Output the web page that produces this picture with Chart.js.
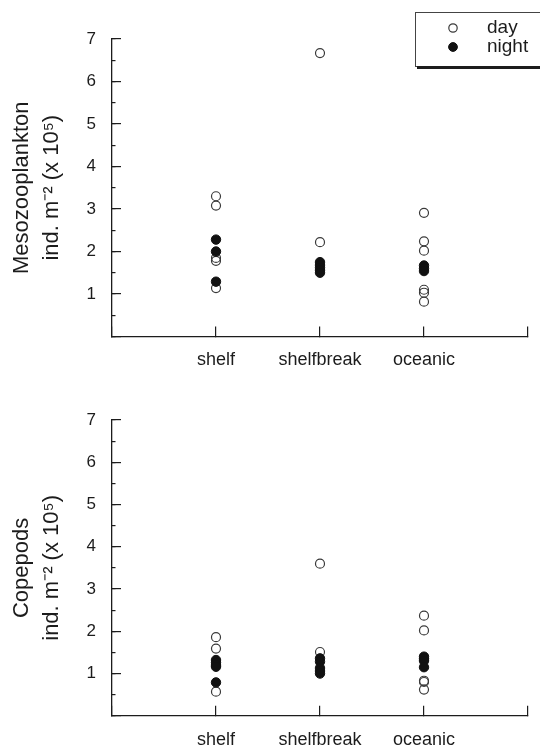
<!DOCTYPE html>
<html>
<head>
<meta charset="utf-8">
<script src="https://cdn.jsdelivr.net/npm/chart.js@4.4.1/dist/chart.umd.min.js"></script>
<style>
html, body { margin: 0; padding: 0; background: #fff; }
#wrap { position: relative; width: 540px; height: 751px; overflow: hidden; }
canvas { position: absolute; left: 0; }
</style>
</head>
<body>
<div id="wrap">
  <canvas id="meso" width="540" height="375" style="top:0"></canvas>
  <canvas id="cope" width="540" height="370" style="top:381px"></canvas>
</div>
<script>
var categories = ["shelf", "shelfbreak", "oceanic"];
var yTickLabels = ["", "1", "2", "3", "4", "5", "6", "7"];

// ind. m-2 (x 10^5), one list per station type: shelf, shelfbreak, oceanic
var mesoDayShelf = [3.3, 3.08, 1.85, 1.78, 1.14];
var mesoDayBreak = [6.67, 2.22];
var mesoDayOceanic = [2.91, 2.24, 2.02, 1.1, 1.03, 0.82];
var mesoNightShelf = [2.28, 2.0, 1.29];
var mesoNightBreak = [1.75, 1.68, 1.62, 1.56, 1.5];
var mesoNightOceanic = [1.67, 1.6, 1.54];

var copeDayShelf = [1.86, 1.59, 0.57];
var copeDayBreak = [3.6, 1.51];
var copeDayOceanic = [2.37, 2.02, 0.83, 0.8, 0.62];
var copeNightShelf = [1.32, 1.26, 1.2, 1.16, 0.79];
var copeNightBreak = [1.36, 1.28, 1.13, 1.06, 1.0];
var copeNightOceanic = [1.4, 1.35, 1.3, 1.15];

var ink = "#1c1c1c";
Chart.defaults.font.family = '"Liberation Sans", Arial, Helvetica, sans-serif';
Chart.defaults.color = ink;

function toPoints(lists) {
    var pts = [];
    lists.forEach(function(vals, i) {
        vals.forEach(function(v) { pts.push({x: i + 1, y: v}); });
    });
    return pts;
}

/* boxed legend in the top right corner, with a drop shadow at the bottom */
var boxLegend = {
    id: "boxLegend",
    afterDraw: function(chart) {
        var c = chart.ctx,
            x0 = 415, y0 = 12, x1 = 548, y1 = 66;
        c.save();
        c.fillStyle = "#fff";
        c.fillRect(x0, y0, x1 - x0, y1 - y0);
        c.strokeStyle = "#444";
        c.lineWidth = 1;
        c.strokeRect(x0 + 0.5, y0 + 0.5, x1 - x0, y1 - y0);
        c.fillStyle = ink;
        c.fillRect(x0 + 2, y1, x1 - x0, 3);

        var rows = [28, 47];
        chart.data.datasets.forEach(function(ds, i) {
            c.beginPath();
            c.arc(453, rows[i], ds.pointRadius - 0.3, 0, Math.PI * 2);
            if (ds.pointBackgroundColor !== "rgba(0,0,0,0)") {
                c.fillStyle = ds.pointBackgroundColor;
                c.fill();
            }
            c.lineWidth = ds.pointBorderWidth;
            c.strokeStyle = ds.pointBorderColor;
            c.stroke();
            c.fillStyle = ink;
            c.font = '19px "Liberation Sans", Arial, sans-serif';
            c.textBaseline = "middle";
            c.fillText(ds.label, 487, rows[i]);
        });
        c.restore();
    }
};

function makeChart(id, dayLists, nightLists, title, area, withLegend) {
    var axisLine = {color: ink, width: 1.3};
    return new Chart(document.getElementById(id), {
        type: "scatter",
        data: {
            datasets: [
                {
                    label: "day",
                    data: toPoints(dayLists),
                    pointRadius: 4.5,
                    pointBorderWidth: 1.2,
                    pointBorderColor: "#3a3a3a",
                    pointBackgroundColor: "rgba(0,0,0,0)",
                    order: 1
                },
                {
                    label: "night",
                    data: toPoints(nightLists),
                    pointRadius: 4.7,
                    pointBorderWidth: 1,
                    pointBorderColor: "#111",
                    pointBackgroundColor: "#111",
                    order: 0
                }
            ]
        },
        plugins: withLegend ? [boxLegend] : [],
        options: {
            responsive: false,
            animation: false,
            devicePixelRatio: 1,
            layout: {padding: {top: area.top, right: 12, left: 0, bottom: 0}},
            plugins: {legend: {display: false}, tooltip: {enabled: false}},
            scales: {
                x: {
                    type: "linear",
                    min: 0,
                    max: 4,
                    afterFit: function(s) {
                        s.height = area.xHeight;
                        // labels at both ends are empty, no side padding needed
                        s.paddingLeft = 0;
                        s.paddingRight = 0;
                    },
                    ticks: {
                        stepSize: 1,
                        padding: 23,
                        maxRotation: 0,
                        autoSkip: false,
                        font: {size: 18},
                        callback: function(v) { return categories[v - 1] || ""; }
                    },
                    grid: {drawOnChartArea: false, tickLength: -10, color: ink, lineWidth: 1.2},
                    border: axisLine
                },
                y: {
                    type: "linear",
                    position: "left",
                    weight: 2,
                    min: 0,
                    max: 7,
                    afterFit: function(s) { s.width = 112; },
                    ticks: {
                        stepSize: 1,
                        padding: 25,
                        font: {size: 17},
                        callback: function(v) { return yTickLabels[v]; }
                    },
                    grid: {drawOnChartArea: false, tickLength: -9, color: ink, lineWidth: 1.2},
                    border: axisLine,
                    title: {
                        display: true,
                        text: title,
                        font: {size: 22, lineHeight: 1.36},
                        padding: {top: 7, bottom: 0}
                    }
                },
                // minor ticks every 0.5, drawn on the same axis line
                yMinor: {
                    type: "linear",
                    position: "left",
                    weight: 1,
                    min: 0,
                    max: 7,
                    afterFit: function(s) { s.width = 0; },
                    ticks: {stepSize: 0.5, display: false},
                    grid: {drawOnChartArea: false, tickLength: -3.5, color: ink, lineWidth: 1.2},
                    border: {display: false}
                }
            }
        }
    });
}

makeChart("meso",
    [mesoDayShelf, mesoDayBreak, mesoDayOceanic],
    [mesoNightShelf, mesoNightBreak, mesoNightOceanic],
    ["Mesozooplankton", "ind. m\u207B\u00B2 (x 10\u2075)"],
    {top: 39, xHeight: 38.5}, true);

makeChart("cope",
    [copeDayShelf, copeDayBreak, copeDayOceanic],
    [copeNightShelf, copeNightBreak, copeNightOceanic],
    ["Copepods", "ind. m\u207B\u00B2 (x 10\u2075)"],
    {top: 39, xHeight: 32.3}, false);
</script>
</body>
</html>
